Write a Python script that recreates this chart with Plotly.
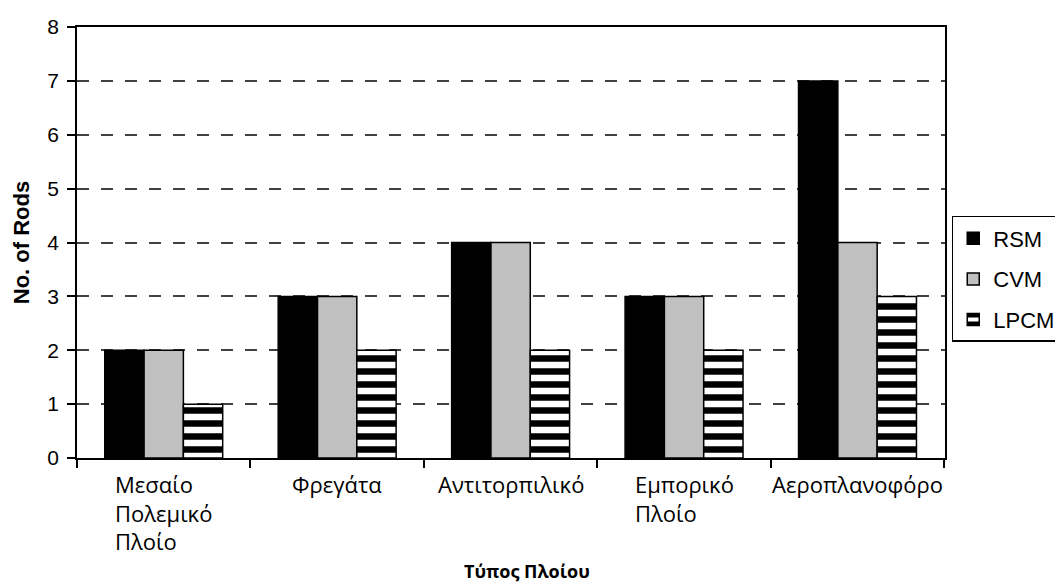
import plotly.graph_objects as go

categories = ["Μεσαίο<br>Πολεμικό<br>Πλοίο", "Φρεγάτα", "Αντιτορπιλικό", "Εμπορικό<br>Πλοίο", "Αεροπλανοφόρο"]
rsm = [2, 3, 4, 3, 7]
cvm = [2, 3, 4, 3, 4]
lpcm = [1, 2, 2, 2, 3]
y_ticks = [0, 1, 2, 3, 4, 5, 6, 7, 8]
x_title = "Τύπος Πλοίου"
y_title = "No. of Rods"

LBL_FONT = "Open Sans, Noto Sans, DejaVu Sans, sans-serif"
ARIAL = "Liberation Sans, Arial, sans-serif"

fig = go.Figure()
fig.add_trace(go.Bar(name="RSM", x=categories, y=rsm, legendgroup="a",
                     marker=dict(color="black", line=dict(color="black", width=1.5))))
fig.add_trace(go.Bar(name="CVM", x=categories, y=cvm, legendgroup="b",
                     marker=dict(color="#c0c0c0", line=dict(color="black", width=1.5))))
fig.add_trace(go.Bar(name="LPCM", x=categories, y=lpcm, legendgroup="c",
                     marker=dict(color="white", line=dict(color="black", width=1.5),
                                 pattern=dict(shape="-", fgcolor="black", bgcolor="white",
                                              size=13, solidity=0.5, fillmode="replace",
                                              fgopacity=1))))

for c in categories:
    fig.add_annotation(x=c, xref="x", y=0, yref="paper", yshift=-9, yanchor="top",
                       xanchor="center", align="left", text=c, showarrow=False,
                       font=dict(family=LBL_FONT, size=22, color="black"))

fig.add_annotation(x=0.518, xref="paper", y=0, yref="paper", yshift=-113, yanchor="middle",
                   text="<b>" + x_title + "</b>", showarrow=False,
                   font=dict(family=LBL_FONT, size=18, color="black"))

fig.update_layout(
    width=1055, height=578,
    margin=dict(l=69, r=118, t=19, b=128, autoexpand=False),
    plot_bgcolor="white", paper_bgcolor="white",
    barmode="group", bargap=0.32, bargroupgap=0,
    showlegend=True,
    legend=dict(x=1.1345, y=0.5615, xanchor="right", yanchor="top",
                bordercolor="black", borderwidth=1.5, bgcolor="white",
                font=dict(family=ARIAL, size=22, color="black"),
                tracegroupgap=9, itemwidth=30),
    xaxis=dict(showticklabels=False, ticks="outside", tickson="boundaries", ticklen=8,
               tickcolor="black", tickwidth=1.5,
               showline=True, linecolor="black", linewidth=1.5, mirror=True,
               showgrid=False),
    yaxis=dict(range=[0, 8], tickvals=y_ticks, ticks="outside", ticklen=8,
               tickcolor="black", tickwidth=1.5, ticklabelstandoff=4,
               showline=True, linecolor="black", linewidth=1.5, mirror=True,
               showgrid=True, gridcolor="#404040", gridwidth=1.5, griddash="12px,12px",
               zeroline=False,
               tickfont=dict(family=ARIAL, size=21, color="black"),
               title=dict(text="<b>" + y_title + "</b>", standoff=12,
                          font=dict(family=ARIAL, size=22, color="black"))),
)

fig.write_html("out.html")
